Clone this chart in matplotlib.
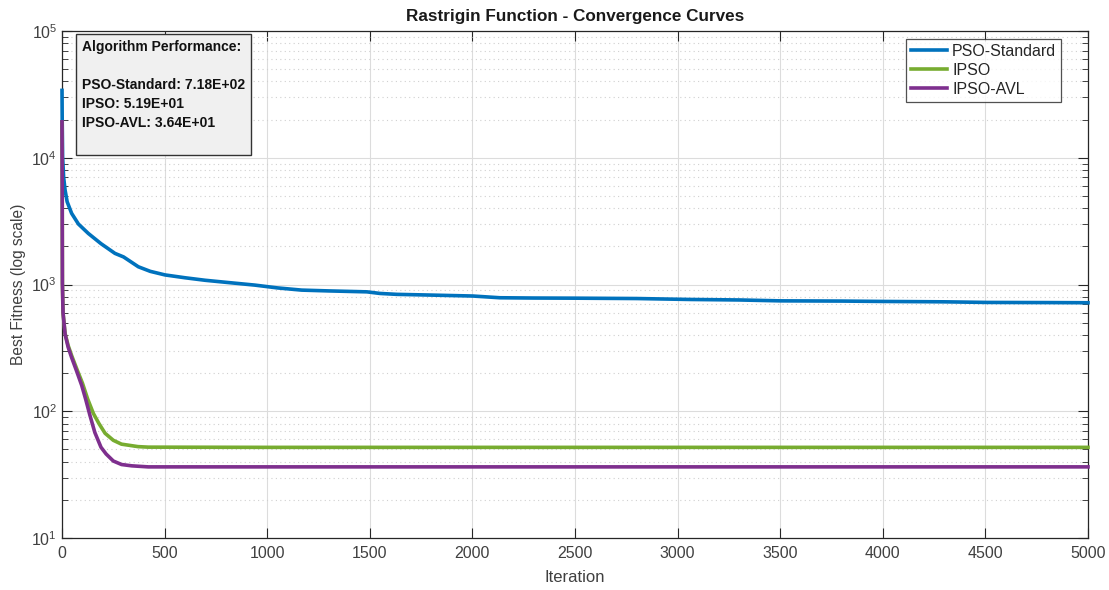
import matplotlib
matplotlib.use("Agg")
import matplotlib.pyplot as plt
from matplotlib.ticker import LogLocator, NullFormatter

plt.rcParams['font.family'] = ['Liberation Sans', 'DejaVu Sans']

# ---- data ----
pso_iter = [0, 1, 3, 8, 15, 25, 47, 80, 128, 190, 258, 300, 372, 430, 502, 600, 697, 800,
            940, 1050, 1168, 1300, 1486, 1550, 1632, 1800, 2003, 2134, 2300, 2500, 2800,
            3060, 3300, 3500, 3800, 4000, 4300, 4508, 4800, 5000]
pso_val = [34000, 20000, 10200, 7000, 5560, 4500, 3640, 3000, 2530, 2100, 1760, 1650, 1380,
           1270, 1190, 1130, 1080, 1040, 989, 940, 903, 890, 875, 850, 836, 825, 811, 786,
           782, 780, 775, 762, 755, 743, 740, 735, 730, 722, 720, 718]

ipso_iter = [0, 1, 2, 5, 15, 30, 47, 70, 100, 125, 153, 180, 210, 250, 290, 323, 370, 420,
             1000, 5000]
ipso_val = [19000, 6000, 1020, 600, 411, 330, 275, 220, 166, 125, 96, 80, 67, 59, 55, 54,
            52.6, 52.1, 51.9, 51.9]

avl_iter = [0, 1, 2, 5, 15, 30, 47, 70, 96, 115, 136, 160, 190, 215, 250, 290, 340, 420,
            1000, 5000]
avl_val = [19200, 6000, 1020, 600, 405, 320, 265, 210, 160, 125, 93, 68, 52, 46, 40.5, 38,
           37.1, 36.4, 36.4, 36.4]

series_names = ['PSO-Standard', 'IPSO', 'IPSO-AVL']
final_values = [7.18e2, 5.19e1, 3.64e1]

colors = ['#0072BD', '#77AC30', '#7E2F8E']
txt_color = '#404040'

fig = plt.figure(figsize=(11.09, 5.90), dpi=100)
ax = fig.add_axes([62 / 1109, 1 - 538 / 590, (1088 - 62) / 1109, (538 - 31) / 590])

for it, val, name, c in zip([pso_iter, ipso_iter, avl_iter], [pso_val, ipso_val, avl_val],
                            series_names, colors):
    ax.plot(it, val, color=c, lw=2.6, label=name, solid_joinstyle='round', clip_on=False,
            zorder=3)

ax.set_yscale('log')
ax.set_xlim(0, 5000)
ax.set_ylim(10, 1e5)
ax.set_xticks(range(0, 5001, 500))
ax.yaxis.set_major_locator(LogLocator(base=10, numticks=10))
ax.yaxis.set_minor_locator(LogLocator(base=10, subs=range(2, 10), numticks=20))
ax.yaxis.set_minor_formatter(NullFormatter())

ax.grid(True, which='major', color='#dcdcdc', lw=0.8, ls='-')
ax.grid(True, which='minor', axis='y', color='#d0d0d0', lw=0.8, ls=(0, (1, 3)))
ax.set_axisbelow(True)

for s in ax.spines.values():
    s.set_color('#262626')
    s.set_linewidth(0.9)
ax.tick_params(which='both', direction='in', top=True, right=True, colors='#262626',
               labelcolor=txt_color, labelsize=11.5)
ax.tick_params(which='major', length=7)
ax.tick_params(which='minor', length=4)
ax.tick_params(axis='x', pad=6)

ax.set_xlabel('Iteration', fontsize=12, color=txt_color, labelpad=6)
ax.set_ylabel('Best Fitness (log scale)', fontsize=11.2, color=txt_color, labelpad=4)
ax.set_title('Rastrigin Function - Convergence Curves', fontsize=12.3, fontweight='bold',
             color='#1a1a1a', pad=7)

leg = ax.legend(loc='upper right', bbox_to_anchor=(1061 / 1109, 1 - 39 / 590),
                bbox_transform=fig.transFigure, fontsize=11.5, frameon=True, fancybox=False,
                handlelength=2.3, handletextpad=0.3, borderpad=0.3, labelspacing=0.25,
                borderaxespad=0)
leg.get_frame().set_edgecolor('#262626')
leg.get_frame().set_linewidth(0.9)
leg.set_zorder(5)
for t in leg.get_texts():
    t.set_color('#262626')

txt = 'Algorithm Performance:\n\n' + '\n'.join(
    f'{n}: {v:.2E}' for n, v in zip(series_names, final_values)) + '\n '
ax.text(82 / 1109, 1 - 40 / 590, txt, transform=fig.transFigure, ha='left', va='top',
        fontsize=10, fontweight='bold', color='#111111', linespacing=1.45, zorder=5,
        bbox=dict(boxstyle='square,pad=0.45', facecolor='#f0f0f0', edgecolor='#333333', lw=1.0))

fig.savefig('out.png', dpi=100)
